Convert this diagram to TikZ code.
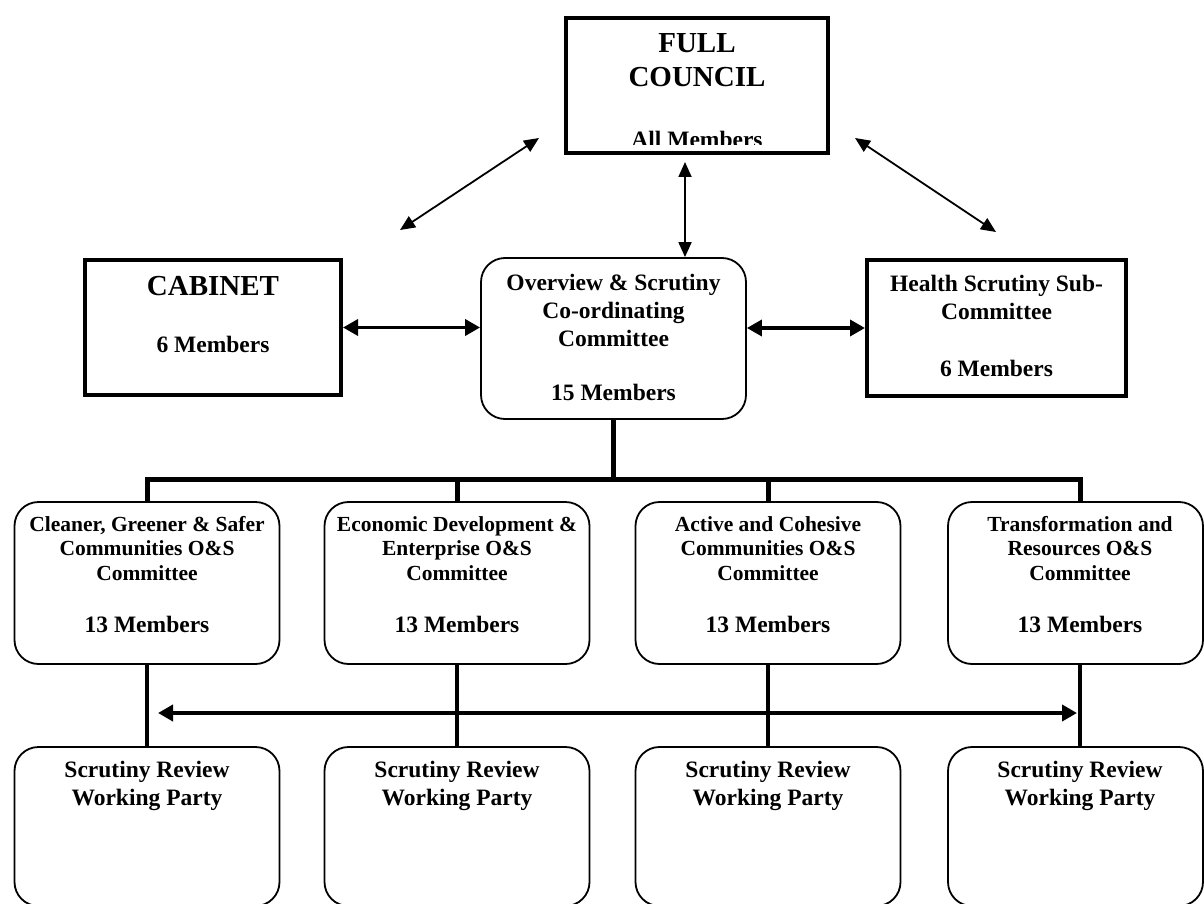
\documentclass[tikz,border=0pt]{standalone}
\usepackage{fontspec}
\setmainfont{Liberation Serif}
\usetikzlibrary{positioning, arrows.meta}

\tikzset{
  sqbox/.style={draw, line width=4pt, inner sep=0pt},
  rbox/.style={draw, line width=1.8pt, rounded corners=24pt, inner sep=0pt},
  title/.style={align=center, inner sep=0pt, font=\bfseries\fontsize{29pt}{34pt}\selectfont},
  body/.style={align=center, inner sep=0pt, font=\bfseries\fontsize{23.5pt}{28pt}\selectfont},
  small/.style={align=center, inner sep=0pt, font=\bfseries\fontsize{21.5pt}{24.5pt}\selectfont},
  count/.style={inner sep=0pt, font=\bfseries\fontsize{23.5pt}{28pt}\selectfont},
  tree/.style={line width=5pt},
  stem/.style={line width=4.5pt},
  link/.style={line width=3.5pt, >={Triangle[length=15pt,width=16pt]}, <->},
  thinlink/.style={line width=1.8pt, >={Triangle[length=15pt,width=13pt]}, <->}
}

\begin{document}
\begin{tikzpicture}[x=1pt, y=-1pt]
\useasboundingbox (0,0) rectangle (1204,904);

% top
\node[sqbox, minimum width=262pt, minimum height=135pt] (fc) at (697,85.5) {};
\node[title, below=17pt of fc.north] (fctxt) {FULL\\COUNCIL};
\begin{scope}
  \clip (fc.north west) rectangle ([yshift=10pt]fc.south east);
  \node[count, below=115pt of fc.north] (fcmem) {All Members};
\end{scope}

% middle row
\node[sqbox, minimum width=256pt, minimum height=135pt] (cab) at (213,327.5) {};
\node[title, below=18pt of cab.north] (cabtxt) {CABINET};
\node[count, below=78pt of cab.north] (cabmem) {6 Members};

\node[rbox, minimum width=265pt, minimum height=161pt] (ovw) at (613.5,338.5) {};
\node[body, below=17pt of ovw.north] (ovwtxt) {Overview \& Scrutiny\\Co-ordinating\\Committee};
\node[count, below=127pt of ovw.north] (ovwmem) {15 Members};

\node[sqbox, minimum width=259pt, minimum height=136pt] (hsc) at (996.5,328) {};
\node[body, below=17pt of hsc.north] (hsctxt) {Health Scrutiny Sub-\\Committee};
\node[count, below=102pt of hsc.north] (hscmem) {6 Members};

% links to full council
\coordinate (la1) at (400,230);
\coordinate (la2) at (539,138);
\coordinate (ra1) at (855,138);
\coordinate (ra2) at (996,232);
\coordinate (vtop) at ([shift={(-12,7)}]fc.south);
\draw[thinlink] (la1) -- (la2);
\draw[thinlink] (ra1) -- (ra2);
\draw[thinlink] (vtop) -- (vtop |- ovw.north);

\draw[link] (cab.east) -- (cab.east -| ovw.west);
\draw[link] (ovw.east |- hsc.west) -- (hsc.west);

% O&S committees
\node[rbox, minimum width=265pt, minimum height=162pt] (cm1) at (147,583) {};
\node[small, below=15pt of cm1.north] (cm1txt) {Cleaner, Greener \& Safer\\Communities O\&S\\Committee};
\node[count, below=115pt of cm1.north] (cm1mem) {13 Members};

\node[rbox, minimum width=265pt, minimum height=162pt] (cm2) at (457,583) {};
\node[small, below=15pt of cm2.north] (cm2txt) {Economic Development \&\\Enterprise O\&S\\Committee};
\node[count, below=115pt of cm2.north] (cm2mem) {13 Members};

\node[rbox, minimum width=265pt, minimum height=162pt] (cm3) at (768,583) {};
\node[small, below=15pt of cm3.north] (cm3txt) {Active and Cohesive\\Communities O\&S\\Committee};
\node[count, below=115pt of cm3.north] (cm3mem) {13 Members};

\node[rbox, minimum width=255pt, minimum height=162pt] (cm4) at (1075.5,583) {};
\node[small, below=15pt of cm4.north, xshift=4.5pt] (cm4txt) {Transformation and\\Resources O\&S\\Committee};
\node[count, below=115pt of cm4.north, xshift=4.5pt] (cm4mem) {13 Members};

% working parties
\foreach \i/\x/\w in {1/147/265, 2/457/265, 3/768/265, 4/1075.5/255}{
  \node[rbox, minimum width=\w pt, minimum height=159pt] (wp\i) at (\x,826.5) {};
}
\node[body, below=15pt of wp1.north] {Scrutiny Review\\Working Party};
\node[body, below=15pt of wp2.north] {Scrutiny Review\\Working Party};
\node[body, below=15pt of wp3.north] {Scrutiny Review\\Working Party};
\node[body, below=15pt of wp4.north, xshift=4.5pt] {Scrutiny Review\\Working Party};

% tree
\draw[tree] (ovw.south) -- ++(0,60) -| (cm1.north);
\draw[tree] (ovw.south) -- ++(0,60) -| (cm2.north);
\draw[tree] (ovw.south) -- ++(0,60) -| (cm3.north);
\draw[tree] (ovw.south) -- ++(0,60) -| ([xshift=4.5pt]cm4.north);

\draw[stem] (cm1.south) -- (wp1.north);
\draw[stem] (cm2.south) -- (wp2.north);
\draw[stem] (cm3.south) -- (wp3.north);
\draw[stem] ([xshift=4.5pt]cm4.south) -- ([xshift=4.5pt]wp4.north);

\coordinate (wl) at (158,713);
\coordinate (wr) at (1077,713);
\draw[link, line width=4pt] (wl) -- (wr);
\end{tikzpicture}
\end{document}
